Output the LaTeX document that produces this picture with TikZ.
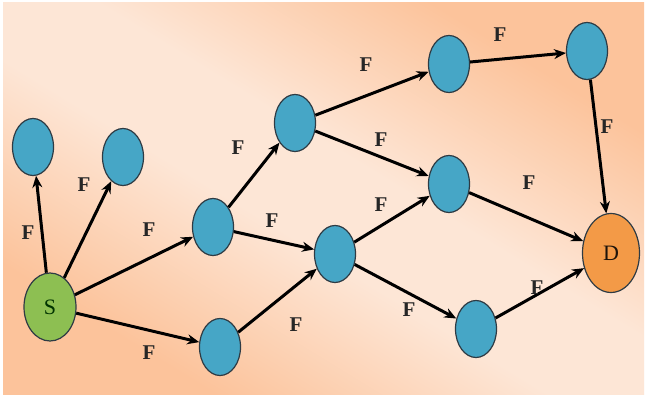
\documentclass[tikz,border=0pt]{standalone}
\usepackage{fontspec}
\setmainfont{Liberation Serif}
\usepackage{tikz}
\tikzset{>=stealth}
\usetikzlibrary{arrows.meta, shapes.geometric}
\definecolor{hopblue}{HTML}{46A6C6}
\definecolor{srcgreen}{HTML}{8DBF52}
\definecolor{dstorange}{HTML}{F39A47}
\definecolor{rim}{HTML}{2E3B44}
\definecolor{peach}{HTML}{FCC39B}
\definecolor{pale}{HTML}{FDE6D6}
\pgfdeclareverticalshading{peachband}{100bp}{color(0bp)=(peach); color(27bp)=(peach); color(45bp)=(pale); color(55bp)=(pale); color(73bp)=(peach); color(100bp)=(peach)}
\tikzset{
  hop/.style={ellipse, draw=rim, line width=1.2pt, fill=hopblue,
    minimum width=41pt, minimum height=57pt, inner sep=0pt},
  link/.style={-{Stealth[length=12pt,width=10pt]}, line width=3pt},
  flab/.style={font=\fontsize{21}{24}\selectfont\bfseries, text=black!85}
}

\begin{document}
\begin{tikzpicture}[x=1pt,y=-1pt]
    \useasboundingbox (0,0) rectangle (646,396);
    \fill[white] (0,0) rectangle (646,396);
    \shade[shading=peachband, shading angle=-31.5] (3,3) rectangle (644,394);
    % source and destination
    \node[hop, fill=srcgreen, minimum width=52pt, minimum height=68pt, font=\fontsize{22}{24}\selectfont, text=black!80!green] (s) at (50,307) {S};
    \node[hop, fill=dstorange, minimum width=57pt, minimum height=79pt, font=\fontsize{22}{24}\selectfont, text=black!85!brown] (d) at (611,253) {D};
    % relay nodes
    \node[hop] (n1) at (33,147) {};
    \node[hop] (n2) at (123,157) {};
    \node[hop] (n3) at (213,227) {};
    \node[hop] (n4) at (220,347) {};
    \node[hop] (n5) at (295,123) {};
    \node[hop] (n6) at (335,254) {};
    \node[hop] (n7) at (449,64) {};
    \node[hop] (n8) at (587,51) {};
    \node[hop] (n9) at (449,184) {};
    \node[hop] (n10) at (476,329) {};
    % links
    \draw[link] (s) -- (n1);
    \draw[link] (s) -- (n2);
    \draw[link] (s) -- (n3);
    \draw[link] (s) -- (n4);
    \draw[link] (n3) -- (n5);
    \draw[link] (n3) -- (n6);
    \draw[link] (n4) -- (n6);
    \draw[link] (n5) -- (n7);
    \draw[link] (n5) -- (n9);
    \draw[link] (n6) -- (n9);
    \draw[link] (n6) -- (n10);
    \draw[link] (n7) -- (n8);
    \draw[link] (n8) -- (d);
    \draw[link] (n9) -- (d);
    \draw[link] (n10) -- (d);
    % labels
    \node[flab] (f1) at (28,233) {F};
    \node[flab] (f2) at (84,185) {F};
    \node[flab] (f3) at (149,230) {F};
    \node[flab] (f4) at (149,353) {F};
    \node[flab] (f5) at (238,148) {F};
    \node[flab] (f6) at (272,221) {F};
    \node[flab] (f7) at (296,325) {F};
    \node[flab] (f8) at (366,65) {F};
    \node[flab] (f9) at (381,140) {F};
    \node[flab] (f10) at (381,205) {F};
    \node[flab] (f11) at (409,310) {F};
    \node[flab] (f12) at (500,35) {F};
    \node[flab] (f13) at (607,127) {F};
    \node[flab] (f14) at (529,183) {F};
    \node[flab] (f15) at (537,288) {F};
\end{tikzpicture}
\end{document}
